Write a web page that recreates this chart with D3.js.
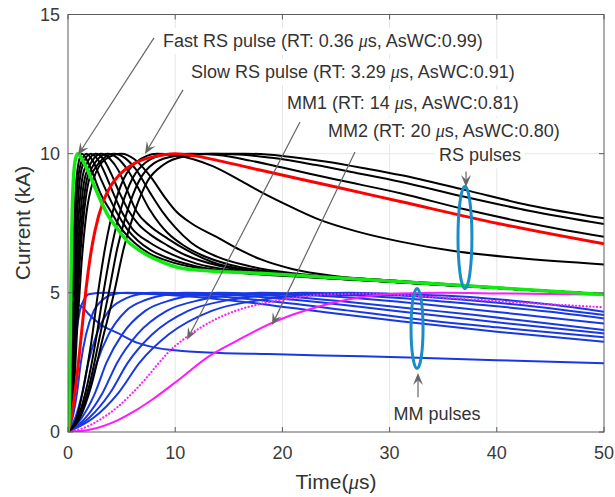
<!DOCTYPE html>
<html>
<head>
<meta charset="utf-8">
<script src="https://cdn.jsdelivr.net/npm/d3@7"></script>
<style>
  body { margin: 0; background: #fff; }
  svg { display: block; }
  text { font-family: "Liberation Sans", Arial, sans-serif; }
</style>
</head>
<body>
<svg id="chart" width="615" height="497"></svg>
<script>
// axis ticks
const xTicks = [0, 10, 20, 30, 40, 50];
const yTicks = [0, 5, 10, 15];

// [time (us), current (kA)]
const fastRS = [[0,0],[0.1,0.5],[0.2,3],[0.3,6],[0.45,8.6],[0.65,9.7],[0.9,10],[1.3,9.8],[1.9,9.35],[2.5,8.8],[3.1,8.27],[3.7,7.8],[4.35,7.44],[5,7.1],[5.6,6.84],[6.85,6.48],[8.7,6.12],[10.4,5.9],[13,5.79],[17.9,5.7],[24,5.56],[31,5.4],[40,5.18],[50,4.94]];

const slowRS = [[0,0],[0.3,0.5],[0.8,1.9],[1.3,3.7],[1.7,5.2],[2.1,6.35],[2.5,7.2],[3.3,8.3],[4,8.85],[4.7,9.2],[6.2,9.65],[8.1,9.9],[10,10],[11.7,9.93],[14,9.75],[17.9,9.41],[25,8.8],[31,8.28],[40,7.5],[50,6.76]];

// the other RS pulses (black)
const otherRS = [
  [[0,0],[0.2,1.5],[0.35,4],[0.5,6.6],[0.7,8.6],[0.95,9.6],[1.3,10],[1.8,9.75],[2.4,9.2],[3,8.6],[4,7.92],[5,7.3],[6.2,6.8],[7.65,6.4],[9.3,6.15],[12,5.9],[16,5.72],[22,5.57],[30,5.4],[40,5.17],[50,4.95]],
  [[0,0],[0.25,1.5],[0.42,4],[0.6,6.6],[0.82,8.5],[1.1,9.5],[1.7,10],[2.3,9.75],[3,9.15],[3.7,8.55],[4.5,7.92],[5.5,7.3],[6.5,6.88],[7.65,6.55],[9.3,6.25],[12,5.95],[16,5.74],[22,5.58],[30,5.4],[40,5.17],[50,4.95]],
  [[0,0],[0.3,1.5],[0.5,4],[0.7,6.5],[0.95,8.4],[1.3,9.5],[2.1,10],[2.8,9.78],[3.5,9.25],[4.2,8.6],[5,7.92],[6,7.3],[7.65,6.8],[9.3,6.45],[12,6.05],[16,5.78],[22,5.6],[30,5.4],[40,5.17],[50,4.95]],
  [[0,0],[0.35,1.5],[0.57,4],[0.8,6.4],[1.1,8.3],[1.5,9.4],[2.6,10],[3.3,9.8],[4,9.3],[4.8,8.6],[5.7,7.92],[6.6,7.45],[7.65,7.1],[9.3,6.7],[11,6.35],[14,5.98],[18,5.74],[24,5.56],[30,5.4],[40,5.17],[50,4.95]],
  [[0,0],[0.4,1.5],[0.65,4],[0.9,6.3],[1.25,8.2],[1.7,9.3],[3.1,10],[3.9,9.82],[4.7,9.4],[5.5,8.7],[6.4,7.92],[7.65,7.4],[9.3,6.95],[11,6.55],[13.5,6.1],[17,5.8],[22,5.6],[30,5.4],[40,5.17],[50,4.95]],
  [[0,0],[0.45,1.5],[0.72,4],[1,6.2],[1.4,8.1],[1.9,9.25],[3.7,10],[4.6,9.85],[5.5,9.45],[6.5,8.8],[7.6,8],[8.6,7.45],[9.3,7.15],[10.8,6.7],[12.5,6.35],[15,6.02],[19,5.75],[25,5.55],[32,5.38],[40,5.17],[50,4.95]],
  [[0,0],[0.5,1.5],[0.8,4],[1.1,6.1],[1.5,7.9],[2.1,9.2],[4.3,10],[5.3,9.85],[6.3,9.45],[7.65,8.6],[8.8,7.92],[10,7.35],[11.5,6.8],[13.9,6.3],[17,5.95],[21,5.7],[27,5.52],[34,5.35],[42,5.14],[50,4.95]],
  [[0,0],[0.55,1.5],[0.9,4],[1.25,6],[1.7,7.8],[2.4,9.1],[3.5,9.8],[5,10],[6.2,9.8],[7.65,9.2],[9,8.45],[10.1,7.92],[11.5,7.5],[13.9,7],[16,6.55],[18,6.2],[21,5.85],[25,5.6],[31,5.42],[40,5.17],[50,4.95]],
  [[0,0],[0.8,0.5],[1.5,1.7],[2.2,3.3],[2.8,5],[3.5,6.7],[4.3,8.1],[5.2,9.1],[6.4,9.7],[8.3,10],[10,9.95],[11.7,9.8],[13.5,9.55],[16,9.05],[18.2,8.58],[21,8.05],[23.5,7.62],[27,7.2],[31,6.84],[36,6.5],[42,6.25],[50,6.02]],
  [[0,0],[0.9,0.5],[1.8,1.7],[2.6,3.3],[3.3,5],[4.1,6.7],[5,8.1],[6,9.1],[7.3,9.7],[9,9.95],[11.5,10],[14,9.95],[17,9.75],[20,9.5],[25,9.07],[31,8.58],[37,8],[43,7.5],[50,7.01]],
  [[0,0],[1,0.5],[2,1.7],[2.9,3.3],[3.8,5],[4.6,6.6],[5.5,7.9],[6.6,9],[8,9.65],[10,9.92],[13,10],[16,9.97],[19,9.85],[23,9.6],[27,9.3],[31,8.99],[37,8.45],[43,7.95],[50,7.47]],
  [[0,0],[1.1,0.5],[2.2,1.7],[3.2,3.3],[4.3,5],[5.2,6.6],[6.2,7.9],[7.4,9],[8.9,9.6],[10.8,9.9],[13.5,10],[16.5,10],[20,9.92],[24,9.72],[28,9.45],[31,9.23],[37,8.7],[43,8.15],[50,7.68]]
];

// MM pulses (blue)
const mmPulses = [
  [[0,0],[0.19,0.5],[0.39,1.4],[0.55,2.5],[0.77,3.5],[1.1,4.35],[1.49,4.75],[1.93,4.95],[3.5,5],[7,4.97],[12,4.85],[18,4.6],[24,4.3],[31,3.98],[40,3.6],[50,3.24]],
  [[0,0],[0.42,0.5],[0.84,1.4],[1.2,2.5],[1.68,3.5],[2.4,4.35],[3.24,4.75],[4.2,4.95],[5.5,5],[9,4.97],[14,4.87],[20,4.65],[26,4.37],[32,4.08],[40,3.76],[50,3.4]],
  [[0,0],[0.67,0.5],[1.33,1.4],[1.9,2.5],[2.66,3.5],[3.8,4.35],[5.13,4.75],[6.65,4.95],[8,5],[12,4.97],[17,4.88],[23,4.68],[29,4.42],[35,4.16],[42,3.86],[50,3.54]],
  [[0,0],[0.95,0.5],[1.89,1.4],[2.7,2.5],[3.78,3.5],[5.4,4.35],[7.29,4.75],[9.45,4.95],[11,5],[15,4.97],[20,4.88],[26,4.68],[32,4.44],[38,4.2],[44,3.93],[50,3.66]],
  [[0,0],[1.26,0.5],[2.52,1.4],[3.6,2.5],[5.04,3.5],[7.2,4.35],[9.72,4.75],[12.6,4.95],[14,5],[18,4.97],[23,4.9],[29,4.74],[35,4.52],[42,4.23],[50,3.9]],
  [[0,0],[1.61,0.5],[3.22,1.4],[4.6,2.5],[6.44,3.5],[9.2,4.35],[12.42,4.75],[16.1,4.95],[18,5],[22,4.97],[27,4.9],[33,4.75],[39,4.55],[45,4.32],[50,4.08]],
  [[0,0],[1.96,0.5],[3.92,1.4],[5.6,2.5],[7.84,3.5],[11.2,4.35],[15.12,4.75],[19.6,4.95],[22,5],[26,4.97],[31,4.9],[36,4.78],[42,4.57],[50,4.2]],
  [[0,0],[2.35,0.5],[4.69,1.4],[6.7,2.5],[9.38,3.5],[13.4,4.35],[18.09,4.75],[23.45,4.95],[26,5],[30,4.97],[35,4.9],[40,4.77],[45,4.58],[50,4.32]]
];
const mmDecay = [[0,0],[0.25,1.5],[0.5,3.3],[0.75,4.3],[1,4.55],[1.3,4.5],[1.87,4.26],[3.1,3.85],[4.66,3.55],[6.5,3.2],[8,3.04],[9.3,2.96],[11,2.9],[13,2.86],[18.7,2.8],[25,2.74],[32.6,2.67],[40,2.58],[50,2.47]];

const mm1 = [[0,0],[1.5,0.15],[3,0.45],[4.66,0.91],[6,1.4],[7.15,1.87],[8.3,2.4],[9.33,2.85],[11.2,3.45],[13.4,3.98],[16,4.4],[18.7,4.66],[20.7,4.8],[24.4,4.95],[28,4.97],[32,4.9],[40,4.7],[50,4.48]];
const mm2 = [[0,0],[2,0.08],[4.66,0.43],[6.2,0.75],[7.8,1.15],[10.3,1.87],[13.1,2.71],[15.9,3.31],[18.8,3.88],[21,4.22],[23.5,4.52],[26,4.75],[28.5,4.9],[31,4.98],[35,5],[40,4.98],[50,4.93]];

// annotations: label, anchor point, arrow start -> tip (data units)
const noteLabels = ["Fast RS pulse (RT: 0.36 μs, AsWC:0.99)", "Slow RS pulse (RT: 3.29 μs, AsWC:0.91)",
                    "MM1 (RT: 14 μs, AsWC:0.81)", "MM2 (RT: 20 μs, AsWC:0.80)", "RS pulses", "MM pulses"];
const notePos = [[8.86, 13.83, "start"], [11.47, 12.72, "start"], [20.43, 11.61, "start"],
                 [24.25, 10.6, "start"], [38.43, 9.72, "middle"], [34.42, 0.43, "middle"]];
const arrows = [[8.02, 14.16, 0.93, 9.95], [10.73, 12.29, 7.18, 9.99], [21.64, 11.14, 11.1, 3.31],
                [26.77, 10.06, 19.03, 3.84], [37.13, 9.36, 37.13, 8.8], [32.65, 1.25, 32.65, 2.12]];
// ellipses: centre t, centre I, half width (us), half height (kA)
const rings = [[37.03, 6.99, 0.65, 1.83], [32.56, 3.72, 0.56, 1.44]];

const svg = d3.select("#chart");
const x = d3.scaleLinear().domain([0, 50]).range([68, 604]);
const y = d3.scaleLinear().domain([0, 15]).range([432, 14.5]);

const axisColor = "#5c5c5c";
const textColor = "#333";

// grid
const grid = svg.append("g").attr("stroke", "#e6e6e6").attr("stroke-width", 1);
xTicks.slice(1, -1).forEach(t => grid.append("line")
  .attr("x1", x(t)).attr("x2", x(t)).attr("y1", y(0)).attr("y2", y(15)));
yTicks.slice(1, -1).forEach(v => grid.append("line")
  .attr("x1", x(0)).attr("x2", x(50)).attr("y1", y(v)).attr("y2", y(v)));

svg.append("clipPath").attr("id", "plot-clip")
  .append("rect").attr("x", x(0)).attr("y", y(15))
  .attr("width", x(50) - x(0)).attr("height", y(0) - y(15));

const lineGen = d3.line()
  .curve(d3.curveMonotoneX)
  .x(d => x(d[0]))
  .y(d => y(d[1]));

const curves = svg.append("g").attr("clip-path", "url(#plot-clip)").attr("fill", "none");

function drawCurve(data, color, width, dash) {
  const p = curves.append("path")
    .datum(data)
    .attr("stroke", color)
    .attr("stroke-width", width)
    .attr("stroke-linejoin", "round")
    .attr("d", lineGen);
  if (dash) p.attr("stroke-dasharray", dash).attr("stroke-linecap", "round");
  return p;
}

mmPulses.forEach(d => drawCurve(d, "#1838e4", 2));
drawCurve(mmDecay, "#1838e4", 2);
drawCurve(mm1, "#ff1aff", 2.2, "0.1 3.4");
drawCurve(mm2, "#ff1aff", 2);
otherRS.forEach(d => drawCurve(d, "#000", 2));
drawCurve(slowRS, "#ff0000", 3);
drawCurve(fastRS, "#10ea10", 3.5);

// axes box + inward ticks on all sides
const ax = svg.append("g").attr("stroke", axisColor).attr("stroke-width", 1).attr("fill", "none");
ax.append("rect").attr("x", x(0)).attr("y", y(15))
  .attr("width", x(50) - x(0)).attr("height", y(0) - y(15));
const tl = 5;
xTicks.forEach(t => {
  ax.append("line").attr("x1", x(t)).attr("x2", x(t)).attr("y1", y(0)).attr("y2", y(0) - tl);
  ax.append("line").attr("x1", x(t)).attr("x2", x(t)).attr("y1", y(15)).attr("y2", y(15) + tl);
});
yTicks.forEach(v => {
  ax.append("line").attr("x1", x(0)).attr("x2", x(0) + tl).attr("y1", y(v)).attr("y2", y(v));
  ax.append("line").attr("x1", x(50)).attr("x2", x(50) - tl).attr("y1", y(v)).attr("y2", y(v));
});

const labels = svg.append("g").attr("fill", "#3a3a3a").attr("font-size", 18);
xTicks.forEach(t => labels.append("text")
  .attr("x", x(t)).attr("y", 459).attr("text-anchor", "middle").text(t));
yTicks.forEach(v => labels.append("text")
  .attr("x", 60).attr("y", y(v)).attr("dy", "0.36em").attr("text-anchor", "end").text(v));

// writes a label, putting the micro sign in italics
function addLabel(sel, str) {
  const parts = str.split("μ");
  sel.append("tspan").text(parts[0]);
  for (let i = 1; i < parts.length; i++) {
    sel.append("tspan").attr("font-style", "italic")
      .attr("font-family", "'Liberation Serif', serif").text("μ");
    sel.append("tspan").text(parts[i]);
  }
}

const xLabel = svg.append("text").attr("x", 336).attr("y", 489)
  .attr("text-anchor", "middle").attr("font-size", 21).attr("fill", textColor)
  .style("white-space", "pre");
addLabel(xLabel, "Time(μs)");

svg.append("text").attr("transform", "translate(30,223) rotate(-90)")
  .attr("text-anchor", "middle").attr("font-size", 21).attr("fill", textColor)
  .text("Current (kA)");

// ellipses
rings.forEach(r => svg.append("ellipse")
  .attr("cx", x(r[0])).attr("cy", y(r[1]))
  .attr("rx", x(r[2]) - x(0)).attr("ry", y(0) - y(r[3]))
  .attr("fill", "none").attr("stroke", "#1a8cc8").attr("stroke-width", 3));

// arrows
const arrowG = svg.append("g");
arrows.forEach(a => {
  const x1 = x(a[0]), y1 = y(a[1]), x2 = x(a[2]), y2 = y(a[3]);
  const len = Math.hypot(x2 - x1, y2 - y1);
  const ux = (x2 - x1) / len, uy = (y2 - y1) / len;
  const nx = -uy, ny = ux;
  const L = 12, Wd = 5;
  arrowG.append("line")
    .attr("x1", x1).attr("y1", y1)
    .attr("x2", x2 - ux * L * 0.6).attr("y2", y2 - uy * L * 0.6)
    .attr("stroke", "#666").attr("stroke-width", 1.2);
  const pts = [
    [x2, y2],
    [x2 - ux * L + nx * Wd, y2 - uy * L + ny * Wd],
    [x2 - ux * L * 0.6, y2 - uy * L * 0.6],
    [x2 - ux * L - nx * Wd, y2 - uy * L - ny * Wd]
  ];
  arrowG.append("path").attr("d", "M" + pts.map(p => p.join(",")).join("L") + "Z")
    .attr("fill", "#666");
});

// annotation texts with white background
const noteG = svg.append("g");
noteLabels.forEach((lab, i) => {
  const p = notePos[i];
  const t = noteG.append("text")
    .attr("x", x(p[0])).attr("y", y(p[1]))
    .attr("text-anchor", p[2])
    .attr("font-size", 18).attr("fill", textColor)
    .style("white-space", "pre");
  addLabel(t, lab);
  const bb = t.node().getBBox();
  noteG.insert("rect", () => t.node())
    .attr("x", bb.x - 4).attr("y", bb.y - 3)
    .attr("width", bb.width + 8).attr("height", bb.height + 6)
    .attr("fill", "#fff");
});
</script>
</body>
</html>
